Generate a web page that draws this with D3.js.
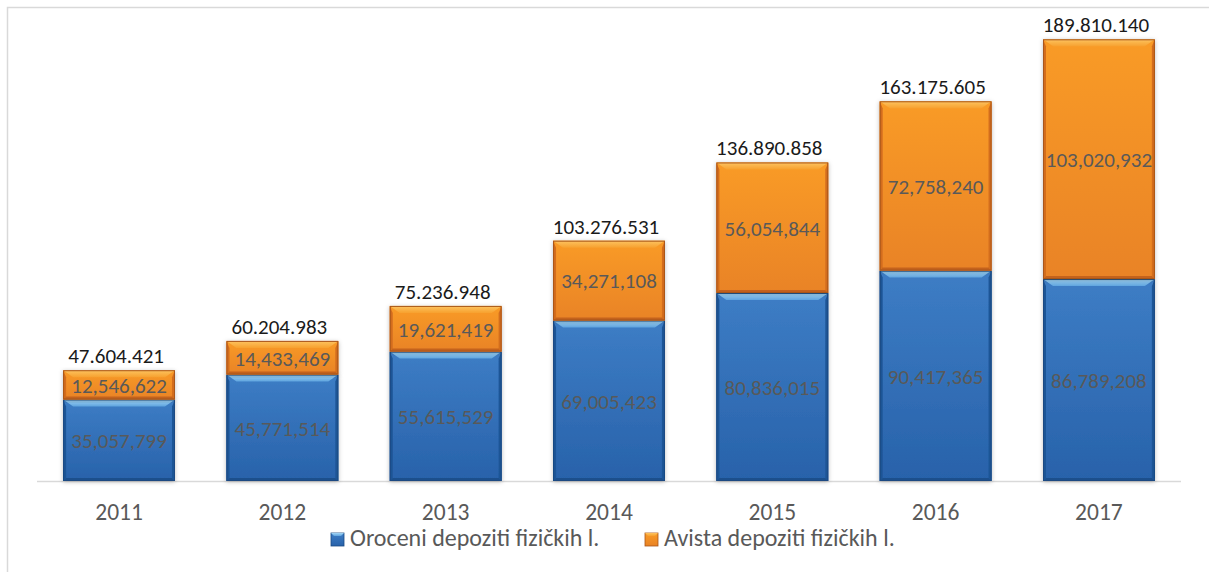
<!DOCTYPE html>
<html>
<head>
<meta charset="utf-8">
<script src="https://cdn.jsdelivr.net/npm/d3@7"></script>
<style>
  body { margin: 0; background: #fff; }
  text { font-family: Carlito, Lato, "Open Sans", sans-serif; }
</style>
</head>
<body>
<div id="chart"></div>
<script>
(function() {

  var years = ["2011", "2012", "2013", "2014", "2015", "2016", "2017"]
  var oroceni = [35057799, 45771514, 55615529, 69005423, 80836015, 90417365, 86789208]
  var avista = [12546622, 14433469, 19621419, 34271108, 56054844, 72758240, 103020932]
  var totalLabels = ["47.604.421", "60.204.983", "75.236.948", "103.276.531", "136.890.858", "163.175.605", "189.810.140"]
  var seriesNames = ["Oroceni depoziti fizičkih l.", "Avista depoziti fizičkih l."]

  var width = 1209, height = 572

  var svg = d3.select("#chart").append("svg")
    .attr("width", width)
    .attr("height", height)

  // chart frame (only top and left edges are visible in the crop)
  svg.append("path")
    .attr("d", "M7.5," + (height + 5) + "V7.5H" + (width + 5))
    .attr("fill", "none")
    .attr("stroke", "#d9d9d9")
    .attr("stroke-width", 1.5)

  var x = d3.scaleBand()
    .domain(years)
    .range([37, 1181])
    .paddingInner(0.315)
    .paddingOuter(0.16)

  var y = d3.scaleLinear()
    .domain([0, 200000000])
    .range([481, 15.6])

  var defs = svg.append("defs")

  function grad(id, stops) {
    var g = defs.append("linearGradient").attr("id", id)
      .attr("x1", 0).attr("y1", 0).attr("x2", 0).attr("y2", 1)
    stops.forEach(function(s) {
      g.append("stop").attr("offset", s[0]).attr("stop-color", s[1])
    })
  }
  grad("blueMain", [[0, "#3d7dc5"], [1, "#2862aa"]])
  grad("orangeMain", [[0, "#f99b27"], [1, "#e98325"]])
  grad("blueTop", [[0, "#a3d6f6"], [1, "#5fa4de"]])
  grad("orangeTop", [[0, "#fdc461"], [1, "#f7a12f"]])

  var shadow = defs.append("filter").attr("id", "shadow")
    .attr("x", "-10%").attr("y", "-10%").attr("width", "120%").attr("height", "120%")
  shadow.append("feDropShadow")
    .attr("dx", 0).attr("dy", 1).attr("stdDeviation", 2)
    .attr("flood-color", "#000").attr("flood-opacity", 0.25)

  var styles = [
    {main: "url(#blueMain)", top: "url(#blueTop)", side: "#1f5596", edge: "#1a4a82", bottom: "#1d4f8c"},
    {main: "url(#orangeMain)", top: "url(#orangeTop)", side: "#d36d1f", edge: "#a9561a", bottom: "#c4621c"}
  ]

  var segments = []
  years.forEach(function(yr, i) {
    segments.push({year: yr, s: 0, y0: 0, y1: oroceni[i], v: oroceni[i]})
    segments.push({year: yr, s: 1, y0: oroceni[i], y1: oroceni[i] + avista[i], v: avista[i]})
  })

  // axis line
  svg.append("line")
    .attr("x1", 37).attr("x2", 1181)
    .attr("y1", y(0) + 0.5).attr("y2", y(0) + 0.5)
    .attr("stroke", "#d9d9d9")
    .attr("stroke-width", 1.5)

  var bev = 7
  var seg = svg.append("g").selectAll("g")
    .data(segments)
    .enter().append("g")
    .attr("filter", "url(#shadow)")

  seg.each(function(d) {
    var g = d3.select(this)
    var st = styles[d.s]
    var x0 = x(d.year), w = x.bandwidth()
    var top = y(d.y1), bot = y(d.y0), h = bot - top
    g.append("rect")
      .attr("x", x0).attr("y", top)
      .attr("width", w).attr("height", h)
      .attr("fill", st.main)
    // side bevels
    g.append("path")
      .attr("d", "M" + x0 + "," + top + "L" + (x0 + 3) + "," + (top + bev) + "L" + (x0 + 3) + "," + (bot - 3) + "L" + x0 + "," + bot + "Z")
      .attr("fill", st.side)
    g.append("path")
      .attr("d", "M" + (x0 + w) + "," + top + "L" + (x0 + w - 3) + "," + (top + bev) + "L" + (x0 + w - 3) + "," + (bot - 3) + "L" + (x0 + w) + "," + bot + "Z")
      .attr("fill", st.side)
    // bottom bevel
    g.append("path")
      .attr("d", "M" + x0 + "," + bot + "L" + (x0 + 3) + "," + (bot - 3) + "L" + (x0 + w - 3) + "," + (bot - 3) + "L" + (x0 + w) + "," + bot + "Z")
      .attr("fill", st.bottom)
    // top bevel
    g.append("path")
      .attr("d", "M" + x0 + "," + top + "L" + (x0 + w) + "," + top + "L" + (x0 + w - bev - 3) + "," + (top + bev) + "L" + (x0 + bev + 3) + "," + (top + bev) + "Z")
      .attr("fill", st.top)
    g.append("rect")
      .attr("x", x0 + 0.5).attr("y", top + 0.5)
      .attr("width", w - 1).attr("height", h - 1)
      .attr("fill", "none")
      .attr("stroke", st.edge)
      .attr("stroke-width", 1)
  })

  // value labels inside segments
  svg.append("g").selectAll("text")
    .data(segments)
    .enter().append("text")
    .attr("x", function(d) { return x(d.year) + x.bandwidth() / 2 })
    .attr("y", function(d) { return (y(d.y0) + y(d.y1)) / 2 + 1 })
    .attr("dy", "0.33em")
    .attr("text-anchor", "middle")
    .attr("font-size", "21px")
    .attr("fill", "#595959")
    .text(function(d) { return d3.format(",")(d.v) })

  // totals above bars
  svg.append("g").selectAll("text")
    .data(years)
    .enter().append("text")
    .attr("x", function(d) { return x(d) + x.bandwidth() / 2 - 3 })
    .attr("y", function(d, i) { return y(oroceni[i] + avista[i]) - 7 })
    .attr("text-anchor", "middle")
    .attr("font-size", "21px")
    .attr("fill", "#1a1a1a")
    .text(function(d, i) { return totalLabels[i] })

  // x axis labels
  svg.append("g")
    .attr("transform", "translate(0," + y(0) + ")")
    .call(d3.axisBottom(x).tickSize(0).tickPadding(22))
    .call(function(g) { g.select(".domain").remove() })
    .selectAll("text")
    .attr("font-family", null)
    .attr("font-size", "23.5px")
    .attr("fill", "#595959")

  // legend
  var legendX = [331, 645]
  var leg = svg.append("g").selectAll("g")
    .data(seriesNames)
    .enter().append("g")
    .attr("transform", function(d, i) { return "translate(" + legendX[i] + ",533)" })

  leg.append("rect")
    .attr("width", 13).attr("height", 13)
    .attr("fill", function(d, i) { return styles[i].main })
    .attr("stroke", function(d, i) { return styles[i].edge })
    .attr("stroke-width", 0.8)
  leg.append("path")
    .attr("d", "M0,0H13L10,3H3Z")
    .attr("fill", function(d, i) { return styles[i].top })
  leg.append("text")
    .attr("x", 19)
    .attr("y", 13)
    .attr("font-size", "24px")
    .attr("fill", "#595959")
    .text(function(d) { return d })

})()
</script>
</body>
</html>
